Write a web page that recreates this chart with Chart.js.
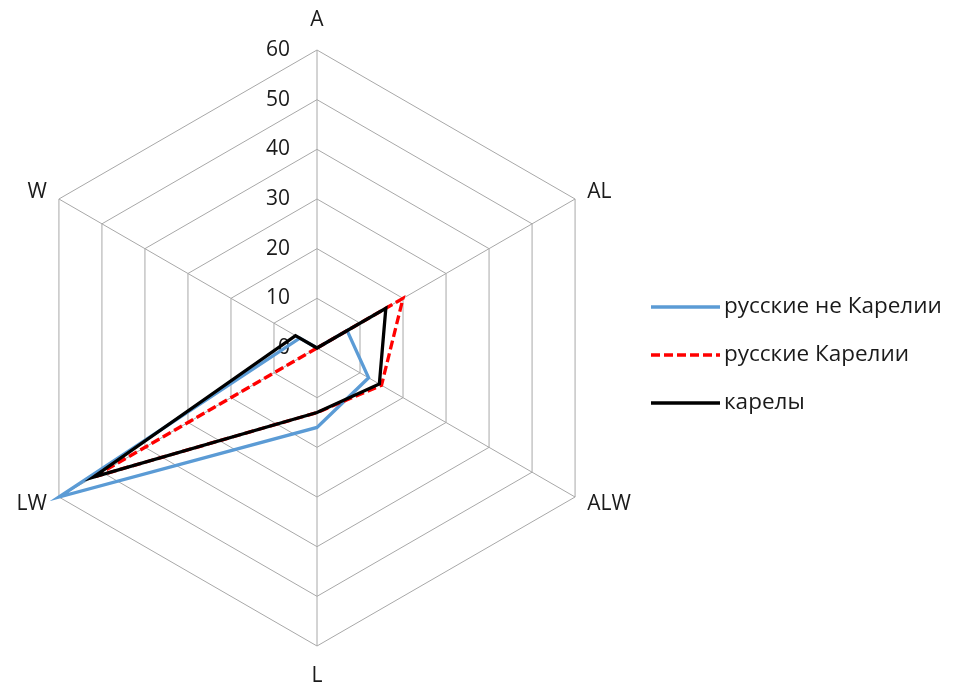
<!DOCTYPE html>
<html>
<head>
<meta charset="utf-8">
<script src="https://cdn.jsdelivr.net/npm/chart.js@4.4.1/dist/chart.umd.min.js"></script>
<style>
  html, body { margin: 0; padding: 0; background: #fff; }
  canvas { display: block; }
</style>
</head>
<body>
<canvas id="radar" width="953" height="686"></canvas>
<script>
const axes = ['A', 'AL', 'ALW', 'L', 'LW', 'W'];
const ruNotKarelia = [0, 7, 12, 16, 60, 4];
const ruKarelia = [0, 20, 15, 13, 52, 0];
const karelians = [0, 16, 14.5, 13, 52, 5];
const tickValues = [0, 10, 20, 30, 40, 50, 60];
const seriesNames = ['русские не Карелии', 'русские Карелии', 'карелы'];

const FONT = '"Open Sans", "Noto Sans", sans-serif';
const GRID = '#a8a8a8';

// tick numbers left of the vertical axis + category names round the hexagon
const axisText = {
  id: 'axisText',
  beforeDatasetsDraw(chart) {
    const r = chart.scales.r;
    const ctx = chart.ctx;
    ctx.save();
    ctx.fillStyle = '#1a1a1a';
    ctx.font = '21px ' + FONT;
    ctx.textBaseline = 'middle';
    ctx.textAlign = 'right';
    tickValues.forEach(v => {
      const p = r.getPointPositionForValue(0, v);
      ctx.fillText(String(v), p.x - 27, p.y);
    });
    axes.forEach((name, i) => {
      const a = r.getIndexAngle(i) - Math.PI / 2;
      const side = Math.abs(Math.cos(a)) > 0.1;
      const p = r.getPointPosition(i, r.drawingArea + (side ? 14 : 30));
      ctx.textAlign = !side ? 'center' : (Math.cos(a) > 0 ? 'left' : 'right');
      ctx.fillText(name, p.x, p.y);
    });
    ctx.restore();
  }
};

// legend on the right, built from the datasets
const sideLegend = {
  id: 'sideLegend',
  afterDraw(chart) {
    const ctx = chart.ctx;
    ctx.save();
    ctx.font = '22.5px ' + FONT;
    ctx.textBaseline = 'middle';
    ctx.textAlign = 'left';
    ctx.fillStyle = '#1a1a1a';
    chart.data.datasets.forEach((ds, i) => {
      const y = 307 + i * 48;
      ctx.save();
      ctx.strokeStyle = ds.borderColor;
      ctx.lineWidth = ds.borderWidth;
      ctx.setLineDash(ds.borderDash || []);
      ctx.beginPath();
      ctx.moveTo(651, y);
      ctx.lineTo(720, y);
      ctx.stroke();
      ctx.restore();
      ctx.fillText(ds.label, 724, y);
    });
    ctx.restore();
  }
};

const series = (label, data, color, order, dash) => ({
  label: label,
  data: data,
  borderColor: color,
  backgroundColor: color,
  borderWidth: 3.3,
  borderDash: dash || [],
  fill: false,
  pointRadius: 0,
  tension: 0,
  order: order
});

new Chart(document.getElementById('radar'), {
  type: 'radar',
  data: {
    labels: axes,
    datasets: [
      series(seriesNames[0], ruNotKarelia, '#5b9bd5', 3),
      series(seriesNames[1], ruKarelia, '#ff0000', 2, [9, 4]),
      series(seriesNames[2], karelians, '#000000', 1)
    ]
  },
  options: {
    responsive: false,
    animation: false,
    events: [],
    plugins: { legend: { display: false }, tooltip: { enabled: false } },
    scales: {
      r: {
        min: 0,
        max: 60,
        ticks: { display: false, stepSize: 10 },
        pointLabels: { display: false },
        grid: { color: GRID, lineWidth: 1 },
        angleLines: { color: GRID, lineWidth: 1 },
        afterFit(scale) {
          scale.xCenter = 317;
          scale.yCenter = 348;
          scale.drawingArea = 298;
        }
      }
    }
  },
  plugins: [axisText, sideLegend]
});
</script>
</body>
</html>
